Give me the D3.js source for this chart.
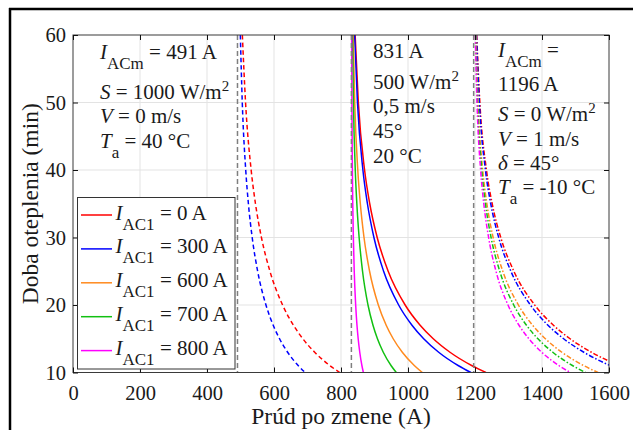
<!DOCTYPE html>
<html><head><meta charset="utf-8">
<script src="https://cdn.jsdelivr.net/npm/d3@7"></script>
<style>
body{margin:0;background:#fff}
svg{display:block}
text{font-family:"Liberation Serif","Times New Roman",serif;white-space:pre;fill:#1a1a1a}
</style>
</head><body>
<svg id="c" width="633" height="430"></svg>
<script>
// ---- data ----
const timeLevels = [60, 50, 40, 35, 30, 25, 20, 17, 15, 13, 11, 10];
const seriesLabels = ["0 A", "300 A", "600 A", "700 A", "800 A"];
const limitCurrents = [491, 831, 1196];
// case 1 (I_ACm = 491 A): only 0 A and 300 A exist
const case1Red = [505.5, 515.1, 531.8, 544.7, 562.5, 587.9, 625.6, 658.1, 686.1, 721.5, 767.5, 796.2];
const case1Blue = [499.5, 505.3, 515.6, 523.6, 534.9, 551.2, 576.0, 597.7, 616.6, 640.7, 672.7, 692.8];
// case 2 (I_ACm = 831 A)
const case2Red = [842.2, 851.8, 870.4, 885.8, 908.0, 940.8, 991.5, 1036.2, 1075.4, 1125.4, 1191.3, 1232.7];
const case2Blue = [840.7, 849.1, 865.4, 878.9, 898.3, 927.2, 972.1, 1011.9, 1046.8, 1091.6, 1150.8, 1188.0];
const case2Orange = [836.4, 841.0, 850.1, 857.7, 868.7, 885.3, 911.4, 934.9, 955.8, 983.0, 1019.5, 1042.8];
const case2Green = [834.3, 837.1, 842.6, 847.3, 854.1, 864.3, 880.6, 895.5, 908.8, 926.2, 949.8, 965.1];
const case2Magenta = [831.8, 832.5, 834.0, 835.1, 836.9, 839.5, 843.8, 847.7, 851.3, 856.0, 862.5, 866.8];
// case 3 (I_ACm = 1196 A)
const case3Red = [1205.1, 1214.5, 1234.2, 1251.3, 1276.9, 1316.0, 1378.2, 1434.2, 1483.8, 1547.8, 1632.7, 1686.0];
const case3Blue = [1204.3, 1213.0, 1231.1, 1247.0, 1270.7, 1307.2, 1365.4, 1417.9, 1464.6, 1524.9, 1605.0, 1655.8];
const case3Orange = [1202.2, 1208.9, 1223.0, 1235.4, 1254.1, 1283.0, 1329.6, 1372.0, 1410.0, 1459.3, 1525.4, 1567.4];
const case3Green = [1201.6, 1207.6, 1220.2, 1231.3, 1248.0, 1273.9, 1315.6, 1353.7, 1387.9, 1432.3, 1492.0, 1530.1];
const case3Magenta = [1200.9, 1206.0, 1216.8, 1226.3, 1240.6, 1262.7, 1298.5, 1331.3, 1360.8, 1399.3, 1451.2, 1484.5];
const xTicks = [0, 200, 400, 600, 800, 1000, 1200, 1400, 1600];
const yTicks = [10, 20, 30, 40, 50, 60];

// ---- styles ----
const colors = ["#ff0000", "#0000ff", "#ff8a1e", "#12c012", "#ff00ff"];
const groups = [
  {series: [case1Red, case1Blue, null, null, null], dash: "4.5,3"},
  {series: [case2Red, case2Blue, case2Orange, case2Green, case2Magenta], dash: null},
  {series: [case3Red, case3Blue, case3Orange, case3Green, case3Magenta], dash: "5,2,1.5,2"}
];

const svg = d3.select("#c");
const L = 73, R = 609, T = 35, B = 372.5;
const x = d3.scaleLinear().domain([0, 1600]).range([L, R]);
const y = d3.scaleLinear().domain([10, 60]).range([B, T]);

// figure border (top & left)
svg.append("line").attr("x1", 9).attr("x2", 633).attr("y1", 9).attr("y2", 9).attr("stroke", "#000").attr("stroke-width", 2.5);
svg.append("line").attr("x1", 10).attr("x2", 10).attr("y1", 8).attr("y2", 430).attr("stroke", "#000").attr("stroke-width", 2.5);

// grid
svg.append("g").selectAll("line").data(xTicks.slice(1, -1)).join("line")
  .attr("x1", d => x(d)).attr("x2", d => x(d)).attr("y1", T).attr("y2", B)
  .attr("stroke", "#e3e3e3").attr("stroke-width", 1);
svg.append("g").selectAll("line").data(yTicks.slice(1, -1)).join("line")
  .attr("y1", d => y(d)).attr("y2", d => y(d)).attr("x1", L).attr("x2", R)
  .attr("stroke", "#e3e3e3").attr("stroke-width", 1);

// clip
svg.append("clipPath").attr("id", "pc").append("rect").attr("x", L).attr("y", T).attr("width", R - L).attr("height", B - T);
const plot = svg.append("g").attr("clip-path", "url(#pc)");

const line = d3.line().x(d => x(d[0])).y(d => y(d[1])).curve(d3.curveMonotoneX);
groups.forEach(g => {
  g.series.forEach((s, i) => {
    if (!s) return;
    const pts = s.map((v, k) => [v, timeLevels[k]]);
    plot.append("path").attr("d", line(pts)).attr("fill", "none")
      .attr("stroke", colors[i]).attr("stroke-width", 1.5)
      .attr("stroke-dasharray", g.dash);
  });
});

// limit lines
plot.selectAll(".lim").data(limitCurrents).join("line")
  .attr("x1", d => x(d)).attr("x2", d => x(d)).attr("y1", T).attr("y2", B)
  .attr("stroke", "#7f7f7f").attr("stroke-width", 1.5).attr("stroke-dasharray", "5,3");

// axes box
const axCol = "#3a3a3a";
svg.append("rect").attr("x", L).attr("y", T).attr("width", R - L).attr("height", B - T)
  .attr("fill", "none").attr("stroke", axCol).attr("stroke-width", 1);
const xa = d3.axisBottom(x).tickValues(xTicks).tickSize(-5).tickPadding(13).tickFormat(d3.format("d"));
const ya = d3.axisLeft(y).tickValues(yTicks).tickSize(-5).tickPadding(7);
const xt = d3.axisTop(x).tickValues(xTicks).tickSize(-5).tickFormat("");
const yr = d3.axisRight(y).tickValues(yTicks).tickSize(-5).tickFormat("");
function styleAxis(g) {
  g.select(".domain").remove();
  g.selectAll(".tick line").attr("stroke", "#111");
  g.selectAll(".tick text").attr("font-size", 20.5).attr("fill", "#262626")
    .style("font-family", '"Liberation Serif","Times New Roman",serif');
}
svg.append("g").attr("transform", `translate(0,${B})`).call(xa).call(styleAxis);
svg.append("g").attr("transform", `translate(${L},0)`).call(ya).call(styleAxis);
svg.append("g").attr("transform", `translate(0,${T})`).call(xt).call(styleAxis);
svg.append("g").attr("transform", `translate(${R},0)`).call(yr).call(styleAxis);

// axis labels
svg.append("text").attr("x", (L + R) / 2).attr("y", 424).attr("text-anchor", "middle")
  .attr("font-size", 23.5).text("Prúd po zmene (A)");
svg.append("text").attr("transform", `translate(37.5,${(T + B) / 2}) rotate(-90)`).attr("text-anchor", "middle")
  .attr("font-size", 23.5).text("Doba oteplenia (min)");

// rich text helper: segments [text, style] style: i=italic, b=sub, p=sup
const FS = 21, SFS = 17;
function rich(xp, yp, segs) {
  const t = svg.append("text").attr("x", xp).attr("y", yp).attr("font-size", FS);
  let shift = 0;
  segs.forEach(([txt, st]) => {
    const ts = t.append("tspan").text(txt);
    let target = 0, fs = FS;
    if (st && st.includes("b")) { target = 10; fs = SFS; }
    if (st && st.includes("p")) { target = -8; fs = 15; }
    ts.attr("dy", target - shift).attr("font-size", fs);
    shift = target;
    if (st && st.includes("i")) ts.attr("font-style", "italic");
  });
  return t;
}

// annotations
rich(100, 59, [["I", "i"], ["ACm", "b"], [" = 491 A"]]);
rich(100, 99, [["S", "i"], [" = 1000 W/m"], ["2", "p"]]);
rich(100, 123, [["V", "i"], [" = 0 m/s"]]);
rich(100, 148, [["T", "i"], ["a", "b"], [" = 40 °C"]]);

rich(373, 58, [["831 A"]]);
rich(373, 89, [["500 W/m"], ["2", "p"]]);
rich(373, 112.5, [["0,5 m/s"]]);
rich(373, 137.5, [["45°"]]);
rich(373, 162.5, [["20 °C"]]);

rich(498, 57, [["I", "i"], ["ACm", "b"], [" ="]]);
rich(498, 90.5, [["1196 A"]]);
rich(498, 120.5, [["S", "i"], [" = 0 W/m"], ["2", "p"]]);
rich(498, 145.5, [["V", "i"], [" = 1 m/s"]]);
rich(498, 170, [["δ", "i"], [" = 45°"]]);
rich(498, 194, [["T", "i"], ["a", "b"], [" = -10 °C"]]);

// legend
const lg = svg.append("g");
lg.append("rect").attr("x", 77.5).attr("y", 197.5).attr("width", 157.5).attr("height", 171.5)
  .attr("fill", "#fff").attr("stroke", "#333").attr("stroke-width", 1);
seriesLabels.forEach((lab, i) => {
  const ly = 215 + i * 33.9;
  lg.append("line").attr("x1", 81).attr("x2", 112).attr("y1", ly).attr("y2", ly)
    .attr("stroke", colors[i]).attr("stroke-width", 1.5);
  rich(115.5, ly + 4.5, [["I", "i"], ["AC1", "b"], [" = " + lab]]);
});
</script>
</body></html>
